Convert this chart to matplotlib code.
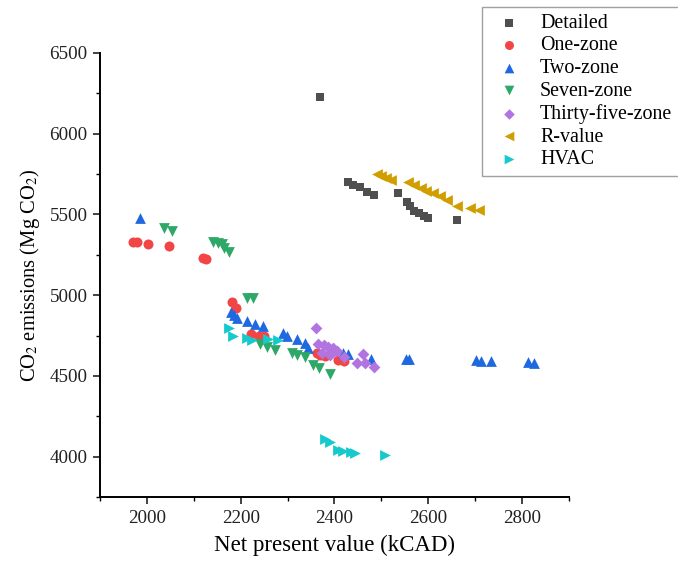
import matplotlib
matplotlib.use("Agg")
import matplotlib.pyplot as plt
from matplotlib.ticker import MultipleLocator

plt.rcParams['font.family'] = ['Liberation Serif', 'DejaVu Serif']
plt.rcParams['mathtext.fontset'] = 'stix'

# values (NPV in kCAD, CO2 in Mg)
detailed_x = [2370, 2430, 2440, 2455, 2470, 2485, 2535, 2555, 2562, 2570, 2580, 2590, 2600, 2662]
detailed_y = [6230, 5700, 5685, 5668, 5640, 5620, 5630, 5575, 5555, 5520, 5508, 5492, 5480, 5465]

onezone_x = [1970, 1978, 2003, 2047, 2120, 2127, 2182, 2190, 2222, 2240, 2250, 2362, 2370, 2380, 2408, 2420]
onezone_y = [5330, 5328, 5320, 5305, 5228, 5222, 4955, 4918, 4760, 4750, 4745, 4640, 4628, 4622, 4600, 4595]

twozone_x = [1985, 2180, 2185, 2192, 2214, 2231, 2248, 2291, 2299, 2321, 2338, 2344, 2419, 2428, 2477,
             2552, 2560, 2701, 2712, 2733, 2812, 2825]
twozone_y = [5475, 4895, 4875, 4862, 4843, 4824, 4812, 4769, 4750, 4731, 4707, 4676, 4645, 4638, 4608,
             4608, 4605, 4598, 4595, 4590, 4588, 4580]

sevenzone_x = [2036, 2054, 2141, 2152, 2160, 2165, 2175, 2214, 2227, 2241, 2256, 2274, 2310, 2321,
               2338, 2355, 2368, 2391]
sevenzone_y = [5418, 5398, 5328, 5322, 5318, 5290, 5270, 4982, 4980, 4700, 4678, 4660, 4640, 4628,
               4615, 4565, 4548, 4510]

thirtyfive_x = [2360, 2365, 2377, 2386, 2396, 2406, 2374, 2391, 2420, 2449, 2460, 2466, 2484]
thirtyfive_y = [4800, 4700, 4690, 4680, 4672, 4657, 4645, 4628, 4615, 4580, 4635, 4578, 4558]

rvalue_x = [2490, 2500, 2510, 2520, 2558, 2570, 2585, 2596, 2610, 2625, 2640, 2662, 2690, 2708]
rvalue_y = [5752, 5740, 5725, 5712, 5702, 5680, 5662, 5648, 5630, 5612, 5592, 5555, 5542, 5525]

hvac_x = [2175, 2183, 2214, 2224, 2259, 2280, 2380, 2390, 2408, 2418, 2436, 2444, 2508]
hvac_y = [4795, 4745, 4735, 4722, 4732, 4720, 4110, 4092, 4040, 4035, 4028, 4022, 4008]

series = [
    ("Detailed", detailed_x, detailed_y, "s", "#4f4f4f", 38),
    ("One-zone", onezone_x, onezone_y, "o", "#f24646", 52),
    ("Two-zone", twozone_x, twozone_y, "^", "#1f68e0", 60),
    ("Seven-zone", sevenzone_x, sevenzone_y, "v", "#2ea866", 60),
    ("Thirty-five-zone", thirtyfive_x, thirtyfive_y, "D", "#b274e0", 36),
    ("R-value", rvalue_x, rvalue_y, "<", "#d19e00", 60),
    ("HVAC", hvac_x, hvac_y, ">", "#16c9cc", 60),
]

fig = plt.figure(figsize=(6.78, 5.63), dpi=100)
ax = fig.add_axes([0.1475, 0.117, 0.6915, 0.789])

for name, xs, ys, mk, col, s in series:
    ax.scatter(xs, ys, marker=mk, color=col, s=s, linewidths=0, label=name)

ax.set_xlim(1900, 2900)
ax.set_ylim(3750, 6500)
ax.set_xticks([2000, 2200, 2400, 2600, 2800])
ax.xaxis.set_minor_locator(MultipleLocator(100))
ax.yaxis.set_major_locator(MultipleLocator(500))
ax.yaxis.set_minor_locator(MultipleLocator(250))

ax.spines['top'].set_visible(False)
ax.spines['right'].set_visible(False)
ax.spines['left'].set_linewidth(1.4)
ax.spines['bottom'].set_linewidth(1.4)
ax.tick_params(which='major', direction='out', length=5, width=1.2, labelsize=13.7,
               colors='#222222', pad=4)
ax.tick_params(which='minor', direction='out', length=3, width=1.0)

ax.set_xlabel("Net present value (kCAD)", fontsize=16.5, labelpad=6)
ax.set_ylabel("CO$_2$ emissions (Mg CO$_2$)", fontsize=14.8, labelpad=5)

leg = fig.legend(loc='upper left', bbox_to_anchor=(0.711, 0.988), fontsize=14.4,
                 frameon=True, fancybox=False, edgecolor='#888888', borderpad=0.35,
                 borderaxespad=0, handletextpad=0.55, handlelength=2.0,
                 labelspacing=0.18, markerscale=0.9)
leg.get_frame().set_linewidth(1.0)

fig.savefig("out.png", dpi=100)
